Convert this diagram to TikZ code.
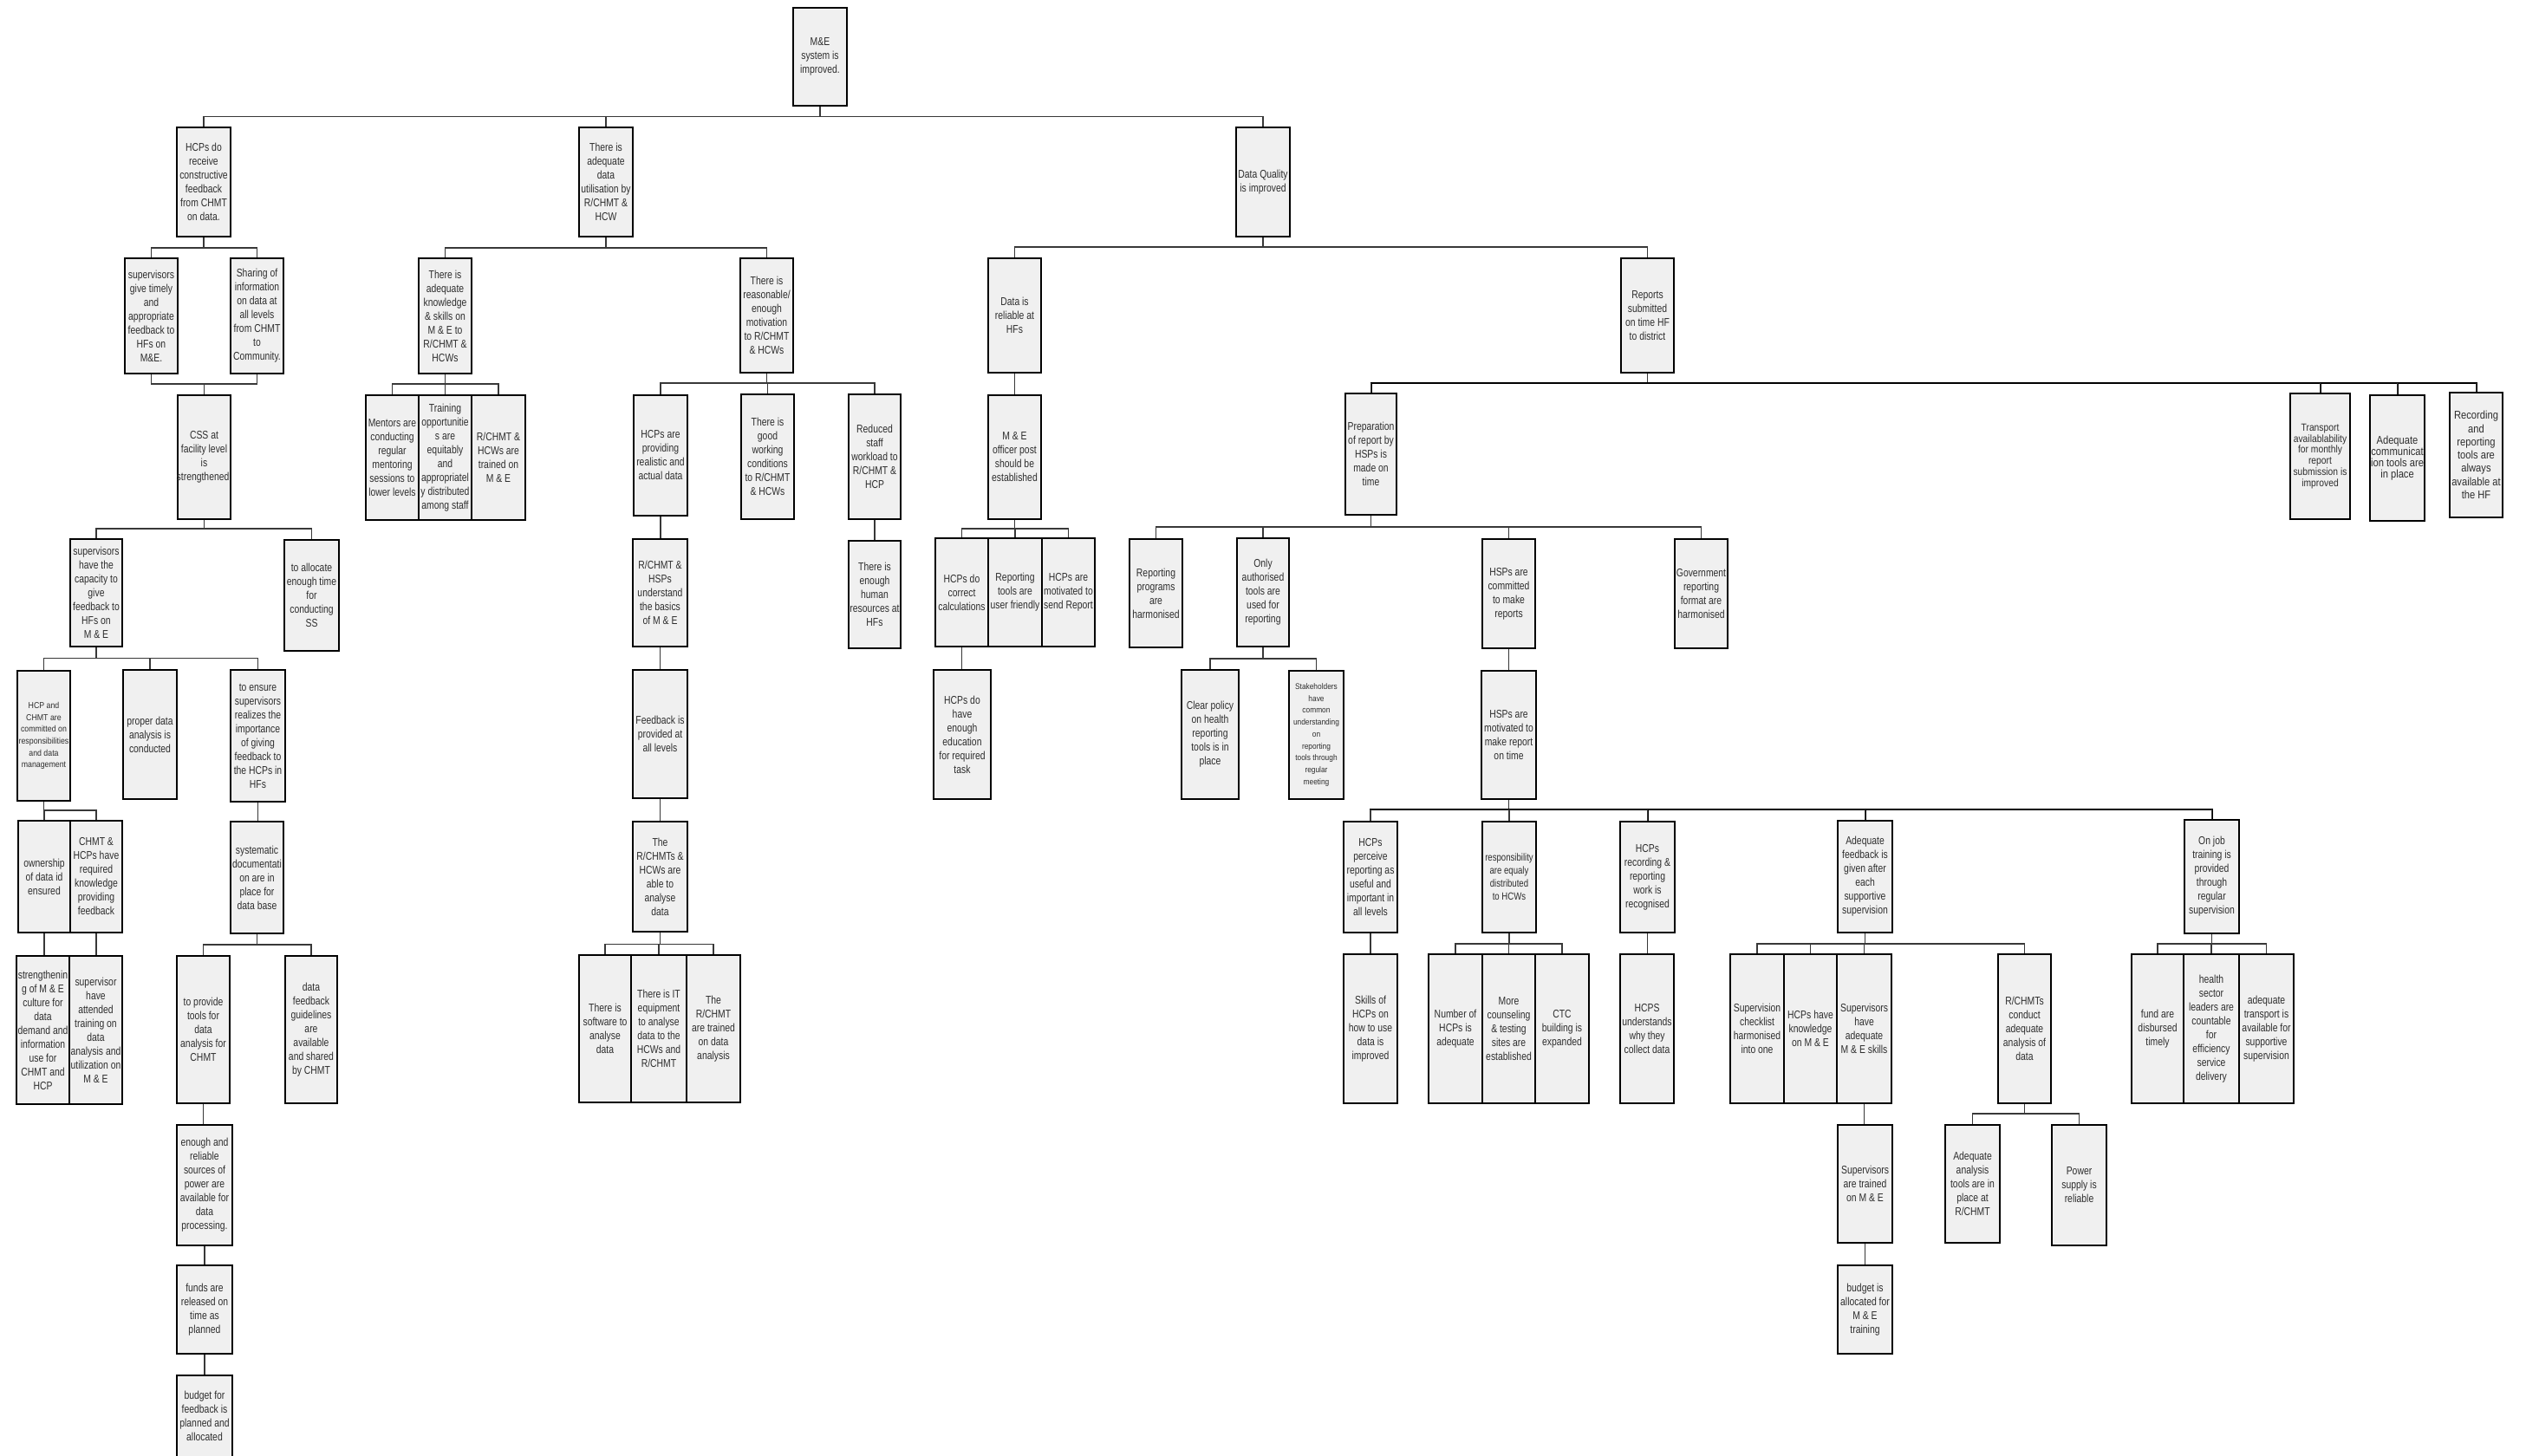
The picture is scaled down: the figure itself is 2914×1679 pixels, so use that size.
\documentclass[tikz,border=0pt]{standalone}
\usepackage{fontspec}
\newfontfamily\nf{Liberation Sans}[FakeStretch=0.8]
\newfontfamily\nfs{Liberation Sans}[FakeStretch=0.88]
\newfontfamily\nfm{Liberation Sans}[FakeStretch=0.86]
\definecolor{boxfill}{RGB}{240,240,240}
\tikzset{
  box/.style={draw=black, line width=2.3pt, fill=boxfill, inner sep=0pt, rectangle},
  txt/.style={align=center, inner sep=0pt, text=black!82, font=\nf\fontsize{13}{16}\selectfont},
  tsmall/.style={font=\nfs\fontsize{10}{13.7}\selectfont},
  tstake/.style={font=\nfs\fontsize{9.5}{13.75}\selectfont},
  ttrans/.style={font=\nfm\fontsize{12}{12.8}\selectfont},
  tcomm/.style={font=\nfm\fontsize{13}{12.8}\selectfont},
  trec/.style={font=\nfm\fontsize{13}{15.3}\selectfont},
  tresp/.style={font=\nf\fontsize{12}{15}\selectfont},
  conn/.style={draw=black!78, line width=1.3pt},
  connb/.style={draw=black, line width=2pt},
}
% \bx[textstyle]{name}{x1}{y1}{x2}{y2}{text}
\newcommand\bx[7][]{%
  \pgfmathsetmacro\bw{#5-#3}%
  \pgfmathsetmacro\bh{#6-#4}%
  \pgfmathsetmacro\bcx{(#3+#5)/2}%
  \pgfmathsetmacro\bcy{(#4+#6)/2}%
  \node[box,minimum width=\bw pt,minimum height=\bh pt] (#2) at (\bcx,\bcy) {};%
  \node[txt,#1] (#2-t) at (#2.center) {#7};%
}
% \tree[busstyle]{parent}{bus y}{children}
\newcommand\tree[4][conn]{%
  \coordinate (#2-bus) at (#2.south |- 0,#3);
  \draw[conn] (#2.south) -- (#2-bus);
  \foreach \c in {#4}{\draw[#1] (#2-bus) -| (\c.north);}
  \foreach \c in {#4}{\draw[conn] (\c.north |- #2-bus) -- (\c.north);}
}
\newcommand\straight[2]{\draw[conn] (#1.south) -- (#1.south |- #2.north);}
\begin{document}
\begin{tikzpicture}[x=1pt,y=-1pt]
\fill[white] (0,0) rectangle (2914,1679);
\useasboundingbox (0,0) rectangle (2914,1679);

% ---- level 0/1
\bx{root}{915}{9}{977}{122}{M\&E\\system is\\improved.}
\bx{hcpfb}{204}{147}{266}{273}{HCPs do\\receive\\constructive\\feedback\\from CHMT\\on data.}
\bx{adqutil}{668}{147}{730}{273}{There is\\adequate\\data\\utilisation by\\R/CHMT \&\\HCW}
\bx{dq}{1426}{147}{1488}{273}{Data Quality\\is improved}

% ---- level 2
\bx{supgive}{144}{298}{205}{431}{supervisors\\give timely\\and\\appropriate\\feedback to\\HFs on\\M\&E.}
\bx{sharing}{266}{298}{327}{431}{Sharing of\\information\\on data at\\all levels\\from CHMT\\to\\Community.}
\bx{adqknow}{483}{298}{544}{431}{There is\\adequate\\knowledge\\\& skills on\\M \& E to\\R/CHMT \&\\HCWs}
\bx{motiv}{854}{298}{915}{430}{There is\\reasonable/\\enough\\motivation\\to R/CHMT\\\& HCWs}
\bx{reliable}{1140}{298}{1201}{430}{Data is\\reliable at\\HFs}
\bx{reports}{1870}{298}{1931}{430}{Reports\\submitted\\on time HF\\to district}

% ---- level 3
\bx{css}{205}{456}{266}{599}{CSS at\\facility level\\is\\strengthened.}
\bx{mentors}{422}{456}{483}{600}{Mentors are\\conducting\\regular\\mentoring\\sessions to\\lower levels}
\bx{training}{483}{456}{544}{600}{Training\\opportunitie\\s are\\equitably\\and\\appropriatel\\y distributed\\among staff}
\bx{trained}{544}{456}{606}{600}{R/CHMT \&\\HCWs are\\trained on\\M \& E}
\bx{providing}{731}{456}{793}{595}{HCPs are\\providing\\realistic and\\actual data}
\bx{working}{855}{455}{916}{599}{There is\\good\\working\\conditions\\to R/CHMT\\\& HCWs}
\bx{reduced}{979}{455}{1039}{599}{Reduced\\staff\\workload to\\R/CHMT \&\\HCP}
\bx{meofficer}{1140}{456}{1201}{599}{M \& E\\officer post\\should be\\established}
\bx{prep}{1552}{454}{1611}{594}{Preparation\\of report by\\HSPs is\\made on\\time}
\bx[ttrans]{transport}{2642}{454}{2711}{599}{Transport\\availablability\\for monthly\\report\\submission is\\improved}
\bx[tcomm]{adqcomm}{2734}{456}{2797}{601}{Adequate\\communicat\\ion tools are\\in place}
\bx[trec]{recording}{2826}{453}{2887}{597}{Recording\\and\\reporting\\tools are\\always\\available at\\the HF}

% ---- level 4
\bx{supcap}{81}{622}{141}{746}{supervisors\\have the\\capacity to\\give\\feedback to\\HFs on\\M \& E}
\bx{allocate}{328}{623}{391}{751}{to allocate\\enough time\\for\\conducting\\SS}
\bx{understand}{730}{622}{793}{746}{R/CHMT \&\\HSPs\\understand\\the basics\\of M \& E}
\bx{human}{979}{624}{1039}{748}{There is\\enough\\human\\resources at\\HFs}
\bx{correct}{1079}{621}{1140}{746}{HCPs do\\correct\\calculations}
\bx{userfriendly}{1140}{621}{1202}{746}{Reporting\\tools are\\user friendly}
\bx{motivsend}{1202}{621}{1263}{746}{HCPs are\\motivated to\\send Report}
\bx{harmon}{1303}{622}{1364}{747}{Reporting\\programs\\are\\harmonised}
\bx{authorised}{1427}{621}{1487}{746}{Only\\authorised\\tools are\\used for\\reporting}
\bx{committed}{1710}{622}{1771}{748}{HSPs are\\committed\\to make\\reports}
\bx{govt}{1932}{622}{1993}{748}{Government\\reporting\\format are\\harmonised}

% ---- level 5
\bx[tsmall]{hcpchmt}{20}{774}{81}{924}{HCP and\\CHMT are\\committed on\\responsibilities\\and data\\management}
\bx{proper}{142}{773}{204}{922}{proper data\\analysis is\\conducted}
\bx{ensure}{266}{773}{329}{925}{to ensure\\supervisors\\realizes the\\importance\\of giving\\feedback to\\the HCPs in\\HFs}
\bx{feedback}{730}{773}{793}{921}{Feedback is\\provided at\\all levels}
\bx{education}{1077}{773}{1143}{922}{HCPs do\\have\\enough\\education\\for required\\task}
\bx{policy}{1363}{773}{1429}{922}{Clear policy\\on health\\reporting\\tools is in\\place}
\bx[tstake]{stake}{1487}{774}{1550}{922}{Stakeholders\\have\\common\\understanding\\on\\reporting\\tools through\\regular\\meeting}
\bx{hspmot}{1709}{774}{1772}{922}{HSPs are\\motivated to\\make report\\on time}

% ---- level 6
\bx{ownership}{21}{947}{81}{1076}{ownership\\of data id\\ensured}
\bx{chmtknow}{81}{947}{141}{1076}{CHMT \&\\HCPs have\\required\\knowledge\\providing\\feedback}
\bx{systematic}{266}{948}{327}{1077}{systematic\\documentati\\on are in\\place for\\data base}
\bx{able}{730}{948}{793}{1075}{The\\R/CHMTs \&\\HCWs are\\able to\\analyse\\data}
\bx{perceive}{1550}{948}{1612}{1076}{HCPs\\perceive\\reporting as\\useful and\\important in\\all levels}
\bx[tresp]{respons}{1710}{948}{1772}{1076}{responsibility\\are equaly\\distributed\\to HCWs}
\bx{recog}{1869}{948}{1932}{1076}{HCPs\\recording \&\\reporting\\work is\\recognised}
\bx{adqfb}{2120}{947}{2183}{1076}{Adequate\\feedback is\\given after\\each\\supportive\\supervision}
\bx{onjob}{2520}{946}{2583}{1077}{On job\\training is\\provided\\through\\regular\\supervision}

% ---- level 7
\bx{strength}{19}{1103}{80}{1274}{strengthenin\\g of M \& E\\culture for\\data\\demand and\\information\\use for\\CHMT and\\HCP}
\bx{attended}{80}{1103}{141}{1274}{supervisor\\have\\attended\\training on\\data\\analysis and\\utilization on\\M \& E}
\bx{tools}{204}{1103}{265}{1273}{to provide\\tools for\\data\\analysis for\\CHMT}
\bx{guidelines}{329}{1103}{389}{1273}{data\\feedback\\guidelines\\are\\available\\and shared\\by CHMT}
\bx{software}{668}{1102}{728}{1272}{There is\\software to\\analyse\\data}
\bx{itequip}{728}{1102}{792}{1272}{There is IT\\equipment\\to analyse\\data to the\\HCWs and\\R/CHMT}
\bx{trainedanalysis}{792}{1102}{854}{1272}{The\\R/CHMT\\are trained\\on data\\analysis}
\bx{skills}{1550}{1101}{1612}{1273}{Skills of\\HCPs on\\how to use\\data is\\improved}
\bx{number}{1648}{1101}{1710}{1273}{Number of\\HCPs is\\adequate}
\bx{counsel}{1710}{1101}{1771}{1273}{More\\counseling\\\& testing\\sites are\\established}
\bx{ctc}{1771}{1101}{1833}{1273}{CTC\\building is\\expanded}
\bx{whycollect}{1869}{1101}{1931}{1273}{HCPS\\understands\\why they\\collect data}
\bx{checklist}{1996}{1101}{2058}{1273}{Supervision\\checklist\\harmonised\\into one}
\bx{knowledge}{2058}{1101}{2119}{1273}{HCPs have\\knowledge\\on M \& E}
\bx{supskills}{2119}{1101}{2182}{1273}{Supervisors\\have\\adequate\\M \& E skills}
\bx{conduct}{2305}{1101}{2366}{1273}{R/CHMTs\\conduct\\adequate\\analysis of\\data}
\bx{fund}{2459}{1101}{2519}{1273}{fund are\\disbursed\\timely}
\bx{leaders}{2519}{1101}{2583}{1273}{health\\sector\\leaders are\\countable\\for\\efficiency\\service\\delivery}
\bx{transp}{2583}{1101}{2646}{1273}{adequate\\transport is\\available for\\supportive\\supervision}

% ---- level 8+
\bx{power}{204}{1298}{268}{1437}{enough and\\reliable\\sources of\\power are\\available for\\data\\processing.}
\bx{suptrained}{2120}{1298}{2183}{1434}{Supervisors\\are trained\\on M \& E}
\bx{analysistools}{2244}{1298}{2307}{1434}{Adequate\\analysis\\tools are in\\place at\\R/CHMT}
\bx{powersupply}{2367}{1298}{2430}{1437}{Power\\supply is\\reliable}
\bx{funds}{204}{1460}{268}{1562}{funds are\\released on\\time as\\planned}
\bx{budgetme}{2120}{1460}{2183}{1562}{budget is\\allocated for\\M \& E\\training}
\bx{budgetfb}{204}{1587}{268}{1681}{budget for\\feedback is\\planned and\\allocated}

% ---- connectors
\tree{root}{134.5}{hcpfb,adqutil,dq}
\tree{hcpfb}{286}{supgive,sharing}
\coordinate (css-bus) at (css.north |- 0,443);
\draw[conn] (supgive.south) |- (css-bus);
\draw[conn] (sharing.south) |- (css-bus);
\draw[conn] (css-bus) -- (css.north);
\tree{adqutil}{286}{adqknow,motiv}
\tree{dq}{285}{reliable,reports}
\tree{adqknow}{443}{mentors,training,trained}
\tree{motiv}{442}{providing,working,reduced}
\straight{reliable}{meofficer}
\tree[connb]{reports}{441.7}{prep,transport,adqcomm,recording}
\tree{css}{610}{supcap,allocate}
\straight{providing}{understand}
\straight{reduced}{human}
\tree{meofficer}{610}{correct,userfriendly,motivsend}
\tree{prep}{608}{harmon,authorised,committed,govt}
\tree{supcap}{759.6}{hcpchmt,proper,ensure}
\straight{understand}{feedback}
\straight{correct}{education}
\tree{authorised}{760}{policy,stake}
\straight{committed}{hspmot}
\tree{hcpchmt}{935}{ownership,chmtknow}
\straight{ensure}{systematic}
\straight{feedback}{able}
\tree[connb]{hspmot}{934}{perceive,respons,recog,adqfb,onjob}
\straight{ownership}{strength}
\straight{chmtknow}{attended}
\tree{systematic}{1090}{tools,guidelines}
\tree{able}{1089.6}{software,itequip,trainedanalysis}
\straight{perceive}{skills}
\tree{respons}{1089}{number,counsel,ctc}
\straight{recog}{whycollect}
\tree{adqfb}{1089}{checklist,knowledge,supskills,conduct}
\tree{onjob}{1089}{fund,leaders,transp}
\straight{tools}{power}
\straight{power}{funds}
\straight{funds}{budgetfb}
\straight{supskills}{suptrained}
\straight{suptrained}{budgetme}
\tree{conduct}{1285}{analysistools,powersupply}
\end{tikzpicture}
\end{document}
